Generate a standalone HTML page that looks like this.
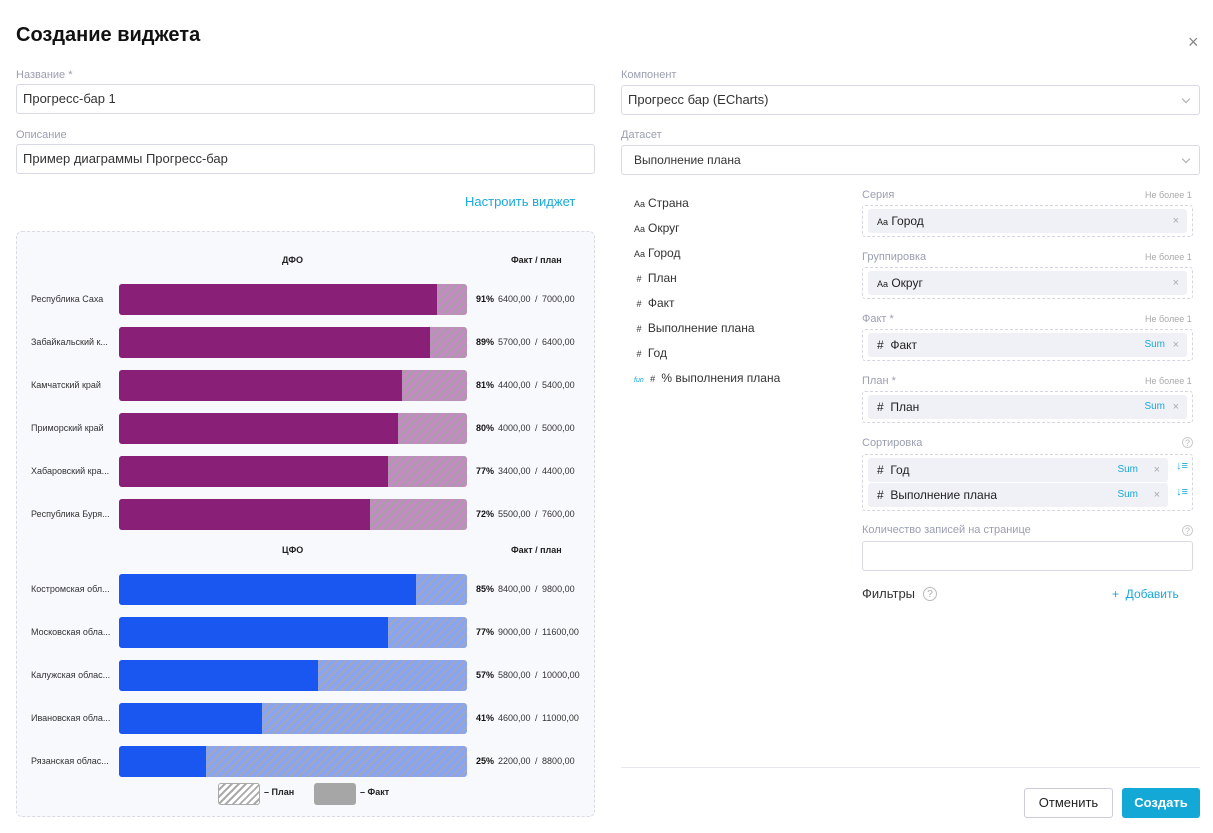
<!DOCTYPE html>
<html><head><meta charset="utf-8"><style>
*{box-sizing:border-box;margin:0;padding:0}
body{width:1213px;height:833px;background:#fff;font-family:"Liberation Sans","Noto Sans CJK SC",sans-serif;position:relative;overflow:hidden;color:#222}
.a{position:absolute;white-space:nowrap}
.lbl{font-size:11px;color:#9a9fb0}
.inp{position:absolute;border:1px solid #d8dbe6;border-radius:3px;height:30px;font-size:13px;padding:0 6px;line-height:28px;color:#333}
.chev{position:absolute;right:10px;top:10px;width:6px;height:6px;border-right:1px solid #aaa;border-bottom:1px solid #aaa;transform:rotate(45deg)}
.rowlbl{position:absolute;left:31px;font-size:9px;color:#333}
.bar{position:absolute;left:119px;width:348px;height:31px;border-radius:3px;overflow:hidden}
.p{background:repeating-linear-gradient(135deg,#c48bc2 0 4px,#a3a0a3 4px 6px)}
.b{background:repeating-linear-gradient(135deg,#88a4f4 0 4px,#a3a6b6 4px 6px)}
.f{height:100%}
.val{position:absolute;left:476px;font-size:9px;color:#333;word-spacing:2px}
.val b{margin-right:4px;color:#111}
.dz{position:absolute;left:862px;width:331px;border:1px dashed #d3d6e0;border-radius:3px}
.chip{position:absolute;left:5px;right:5px;height:24px;background:#f0f1f6;border-radius:3px;font-size:12px;line-height:24px;padding-left:9px;color:#222}
.x{position:absolute;right:8px;color:#aaa;font-size:11px}
.sum{position:absolute;right:30px;color:#1aa8d8;font-size:10px}
.fl{position:absolute;left:634px;font-size:12px;color:#333}
.fl i{font-style:normal;font-size:9px;margin-right:3px}
</style></head><body>
<div class="a" style="left:16px;top:24px;font-size:20px;font-weight:bold;color:#111">Создание виджета</div>
<div class="a" style="left:1188px;top:32px;font-size:18px;color:#888">×</div>

<div class="a lbl" style="left:16px;top:69px">Название *</div>
<div class="inp" style="left:16px;top:84px;width:579px">Прогресс-бар 1</div>
<div class="a lbl" style="left:16px;top:129px">Описание</div>
<div class="inp" style="left:16px;top:144px;width:579px">Пример диаграммы Прогресс-бар</div>
<div class="a" style="left:465px;top:194px;font-size:13px;color:#1aa8d8">Настроить виджет</div>

<div class="a lbl" style="left:621px;top:69px">Компонент</div>
<div class="inp" style="left:621px;top:85px;width:579px">Прогресс бар (ECharts)<span class="chev"></span></div>
<div class="a lbl" style="left:621px;top:129px">Датасет</div>
<div class="inp" style="left:621px;top:145px;width:579px;font-size:12px;padding-left:12px">Выполнение плана<span class="chev"></span></div>

<div style="position:absolute;left:16px;top:231px;width:579px;height:586px;border:1px dashed #d8dbe4;border-radius:6px;background:#f8f9fd"></div>
<div class="a" style="left:282px;top:255px;font-size:9px;font-weight:bold">ДФО</div>
<div class="a" style="left:511px;top:255px;font-size:9px;font-weight:bold">Факт / план</div>
<div class="a" style="left:282px;top:545px;font-size:9px;font-weight:bold">ЦФО</div>
<div class="a" style="left:511px;top:545px;font-size:9px;font-weight:bold">Факт / план</div>

<div class="rowlbl" style="top:294px">Республика Саха</div><div class="bar p" style="top:284px"><div class="f" style="width:318px;background:#891f77"></div></div><div class="val" style="top:294px"><b>91%</b>6400,00 / 7000,00</div>
<div class="rowlbl" style="top:337px">Забайкальский к...</div><div class="bar p" style="top:327px"><div class="f" style="width:311px;background:#891f77"></div></div><div class="val" style="top:337px"><b>89%</b>5700,00 / 6400,00</div>
<div class="rowlbl" style="top:380px">Камчатский край</div><div class="bar p" style="top:370px"><div class="f" style="width:283px;background:#891f77"></div></div><div class="val" style="top:380px"><b>81%</b>4400,00 / 5400,00</div>
<div class="rowlbl" style="top:423px">Приморский край</div><div class="bar p" style="top:413px"><div class="f" style="width:279px;background:#891f77"></div></div><div class="val" style="top:423px"><b>80%</b>4000,00 / 5000,00</div>
<div class="rowlbl" style="top:466px">Хабаровский кра...</div><div class="bar p" style="top:456px"><div class="f" style="width:269px;background:#891f77"></div></div><div class="val" style="top:466px"><b>77%</b>3400,00 / 4400,00</div>
<div class="rowlbl" style="top:509px">Республика Буря...</div><div class="bar p" style="top:499px"><div class="f" style="width:251px;background:#891f77"></div></div><div class="val" style="top:509px"><b>72%</b>5500,00 / 7600,00</div>

<div class="rowlbl" style="top:584px">Костромская обл...</div><div class="bar b" style="top:574px"><div class="f" style="width:297px;background:#1a56f0"></div></div><div class="val" style="top:584px"><b>85%</b>8400,00 / 9800,00</div>
<div class="rowlbl" style="top:627px">Московская обла...</div><div class="bar b" style="top:617px"><div class="f" style="width:269px;background:#1a56f0"></div></div><div class="val" style="top:627px"><b>77%</b>9000,00 / 11600,00</div>
<div class="rowlbl" style="top:670px">Калужская облас...</div><div class="bar b" style="top:660px"><div class="f" style="width:199px;background:#1a56f0"></div></div><div class="val" style="top:670px"><b>57%</b>5800,00 / 10000,00</div>
<div class="rowlbl" style="top:713px">Ивановская обла...</div><div class="bar b" style="top:703px"><div class="f" style="width:143px;background:#1a56f0"></div></div><div class="val" style="top:713px"><b>41%</b>4600,00 / 11000,00</div>
<div class="rowlbl" style="top:756px">Рязанская облас...</div><div class="bar b" style="top:746px"><div class="f" style="width:87px;background:#1a56f0"></div></div><div class="val" style="top:756px"><b>25%</b>2200,00 / 8800,00</div>

<div class="a" style="left:218px;top:783px;width:42px;height:22px;border:1px solid #aaa;border-radius:3px;background:repeating-linear-gradient(135deg,#fff 0 3px,#aaa 3px 5px)"></div>
<div class="a" style="left:264px;top:787px;font-size:9px;font-weight:bold">– План</div>
<div class="a" style="left:314px;top:783px;width:42px;height:22px;border-radius:3px;background:#a6a6a6"></div>
<div class="a" style="left:360px;top:787px;font-size:9px;font-weight:bold">– Факт</div>

<div class="fl" style="top:196px"><i>Aa</i>Страна</div>
<div class="fl" style="top:221px"><i>Aa</i>Округ</div>
<div class="fl" style="top:246px"><i>Aa</i>Город</div>
<div class="fl" style="top:271px"><i>&nbsp;#</i> План</div>
<div class="fl" style="top:296px"><i>&nbsp;#</i> Факт</div>
<div class="fl" style="top:321px"><i>&nbsp;#</i> Выполнение плана</div>
<div class="fl" style="top:346px"><i>&nbsp;#</i> Год</div>
<div class="fl" style="top:371px"><i style="color:#1aa8d8;font-style:italic;font-size:7px">fun</i> <i>#</i> % выполнения плана</div>

<div class="a lbl" style="left:862px;top:189px">Серия</div><div class="a" style="left:1145px;top:190px;font-size:9px;color:#aaa">Не более 1</div>
<div class="dz" style="top:205px;height:32px"><div class="chip" style="top:3px"><i style="font-style:normal;font-size:9px">Aa</i> Город<span class="x">×</span></div></div>
<div class="a lbl" style="left:862px;top:251px">Группировка</div><div class="a" style="left:1145px;top:252px;font-size:9px;color:#aaa">Не более 1</div>
<div class="dz" style="top:267px;height:32px"><div class="chip" style="top:3px"><i style="font-style:normal;font-size:9px">Aa</i> Округ<span class="x">×</span></div></div>
<div class="a lbl" style="left:862px;top:313px">Факт *</div><div class="a" style="left:1145px;top:314px;font-size:9px;color:#aaa">Не более 1</div>
<div class="dz" style="top:329px;height:32px"><div class="chip" style="top:3px"># &nbsp;Факт<span class="sum" style="right:22px">Sum</span><span class="x">×</span></div></div>
<div class="a lbl" style="left:862px;top:375px">План *</div><div class="a" style="left:1145px;top:376px;font-size:9px;color:#aaa">Не более 1</div>
<div class="dz" style="top:391px;height:32px"><div class="chip" style="top:3px"># &nbsp;План<span class="sum" style="right:22px">Sum</span><span class="x">×</span></div></div>
<div class="a lbl" style="left:862px;top:437px">Сортировка</div><div class="a" style="left:1182px;top:437px;font-size:9px;color:#bbb;border:1px solid #ccc;border-radius:50%;width:11px;height:11px;text-align:center;line-height:10px">?</div>
<div class="dz" style="top:454px;height:57px">
<div class="chip" style="top:3px;right:24px"># &nbsp;Год<span class="sum">Sum</span><span class="x">×</span></div>
<div class="chip" style="top:28px;right:24px"># &nbsp;Выполнение плана<span class="sum">Sum</span><span class="x">×</span></div>
<div class="a" style="right:4px;top:5px;font-size:11px;color:#1aa8d8">↓≡</div>
<div class="a" style="right:4px;top:31px;font-size:11px;color:#1aa8d8">↓≡</div>
</div>
<div class="a lbl" style="left:862px;top:524px">Количество записей на странице</div><div class="a" style="left:1182px;top:525px;font-size:9px;color:#bbb;border:1px solid #ccc;border-radius:50%;width:11px;height:11px;text-align:center;line-height:10px">?</div>
<div class="inp" style="left:862px;top:541px;width:331px"></div>
<div class="a" style="left:862px;top:586px;font-size:13px;color:#333">Фильтры</div>
<div class="a" style="left:923px;top:587px;font-size:10px;color:#aaa;border:1px solid #bbb;border-radius:50%;width:14px;height:14px;text-align:center;line-height:13px">?</div>
<div class="a" style="left:1112px;top:587px;font-size:12px;color:#1aa8d8">+ &nbsp;Добавить</div>

<div class="a" style="left:621px;top:767px;width:579px;height:1px;background:#e6e8ee"></div>
<div class="a" style="left:1024px;top:788px;width:89px;height:30px;border:1px solid #ccd;border-radius:3px;font-size:13px;text-align:center;line-height:28px;color:#222">Отменить</div>
<div class="a" style="left:1122px;top:788px;width:78px;height:30px;background:#14a8d6;border-radius:3px;font-size:13px;text-align:center;line-height:30px;color:#fff;font-weight:bold">Создать</div>
</body></html>
